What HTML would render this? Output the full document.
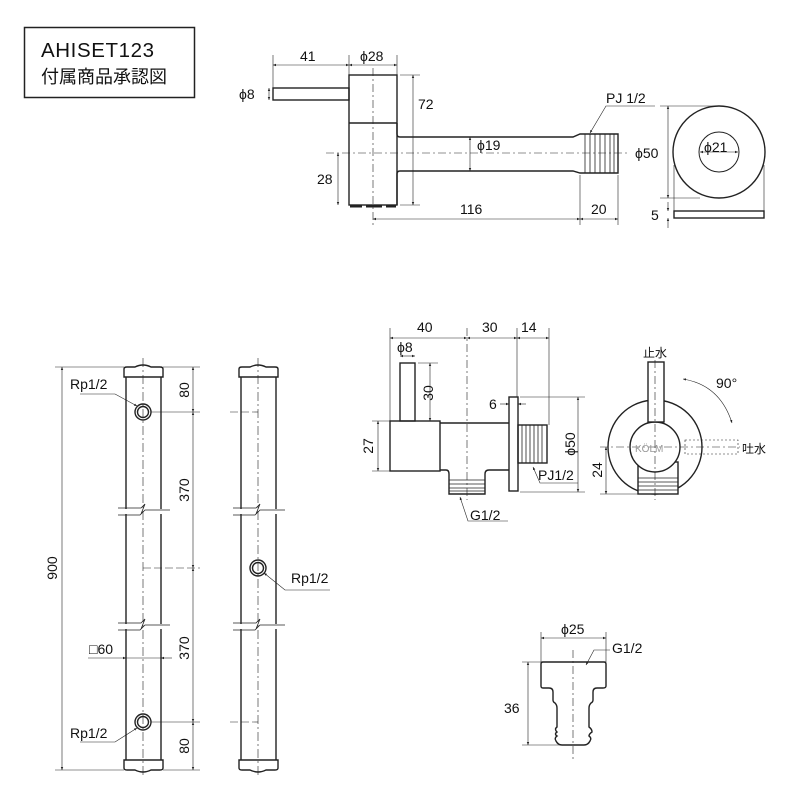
<!DOCTYPE html>
<html><head><meta charset="utf-8"><style>
html,body{margin:0;padding:0;background:#fff;}
svg{display:block;}
text{font-family:"Liberation Sans","Noto Sans CJK JP",sans-serif;fill:#111;}
</style></head><body>
<svg width="800" height="800" viewBox="0 0 800 800" xmlns="http://www.w3.org/2000/svg">
<defs>
<marker id="a" viewBox="0 0 10 10" refX="10" refY="5" markerWidth="5" markerHeight="5" orient="auto-start-reverse"><path d="M0,1 L10,5 L0,9 z" fill="#222"/></marker>
</defs>
<!-- title -->
<rect x="24.5" y="27.5" width="170" height="70" fill="none" stroke="#222" stroke-width="1.5"/>
<text x="41" y="57" font-size="20.5" letter-spacing="0.6">AHISET123</text>
<text x="41" y="83" font-size="18">付属商品承認図</text>

<g fill="none" stroke="#222" stroke-width="1.4">
<!-- top drawing -->
<rect x="273" y="88" width="76" height="12"/>
<rect x="349" y="75" width="48" height="130"/>
<line x1="349" y1="123" x2="397" y2="123"/>
<path d="M397,123 V134 Q397,137 400,137 H573 L580,134 H618 V173 H580 L573,171 H400 Q397,171 397,174 V205"/>
<g stroke-width="0.8"><line x1="585" y1="134" x2="585" y2="173"/><line x1="590" y1="134" x2="590" y2="173"/><line x1="595" y1="134" x2="595" y2="173"/><line x1="600" y1="134" x2="600" y2="173"/><line x1="605" y1="134" x2="605" y2="173"/><line x1="610" y1="134" x2="610" y2="173"/><line x1="614" y1="134" x2="614" y2="173"/></g>
<line x1="350" y1="206" x2="362" y2="206" stroke-width="3"/><line x1="366" y1="206" x2="382" y2="206" stroke-width="3"/><line x1="386" y1="206" x2="396" y2="206" stroke-width="3"/>
<g stroke-width="0.6">
<line x1="373" y1="68" x2="373" y2="225" stroke-dasharray="8,3,2,3"/>
<line x1="326" y1="153" x2="630" y2="153" stroke-dasharray="8,3,2,3"/>
<line x1="273" y1="55" x2="273" y2="88"/><line x1="349" y1="55" x2="349" y2="75"/><line x1="397" y1="55" x2="397" y2="75"/>
<line x1="273" y1="65" x2="349" y2="65" marker-start="url(#a)" marker-end="url(#a)"/>
<line x1="349" y1="65" x2="397" y2="65" marker-start="url(#a)" marker-end="url(#a)"/>
<line x1="400" y1="75" x2="420" y2="75"/><line x1="400" y1="205" x2="420" y2="205"/>
<line x1="413" y1="75" x2="413" y2="205" marker-start="url(#a)" marker-end="url(#a)"/>
<line x1="338" y1="153" x2="338" y2="205" marker-start="url(#a)" marker-end="url(#a)"/>
<line x1="470" y1="137" x2="470" y2="171" marker-start="url(#a)" marker-end="url(#a)"/>
<line x1="373" y1="219" x2="580" y2="219" marker-start="url(#a)" marker-end="url(#a)"/>
<line x1="580" y1="219" x2="618" y2="219" marker-start="url(#a)" marker-end="url(#a)"/>
<line x1="580" y1="175" x2="580" y2="225"/><line x1="618" y1="175" x2="618" y2="225"/>
<line x1="269" y1="88" x2="269" y2="100" marker-start="url(#a)" marker-end="url(#a)"/>
<polyline points="590,133 606,106 655,106" marker-start="url(#a)"/>
</g>
<!-- washer -->
<circle cx="719" cy="152" r="46"/><circle cx="719" cy="152" r="20" stroke-width="1"/>
<rect x="674" y="211" width="90" height="7"/>
<g stroke-width="0.6">
<line x1="700" y1="152" x2="738" y2="152" marker-start="url(#a)" marker-end="url(#a)"/>
<line x1="660" y1="106" x2="719" y2="106"/><line x1="660" y1="198" x2="700" y2="198"/>
<line x1="668" y1="106" x2="668" y2="198" marker-start="url(#a)" marker-end="url(#a)"/>
<line x1="674" y1="165" x2="674" y2="211"/><line x1="764" y1="165" x2="764" y2="211"/>
<line x1="668" y1="202" x2="668" y2="211" marker-end="url(#a)"/><line x1="668" y1="228" x2="668" y2="218" marker-end="url(#a)"/>
</g>

<!-- valve side -->
<rect x="400" y="363" width="15" height="58"/>
<rect x="390" y="421" width="50" height="50"/>
<path d="M440,423 H509 M440,470 H446 Q449,470 449,474 V494 H485 V474 Q485,470 489,470 H509"/>
<g stroke-width="0.8"><line x1="449" y1="480" x2="485" y2="480"/><line x1="449" y1="484" x2="485" y2="484"/><line x1="449" y1="488" x2="485" y2="488"/><line x1="449" y1="491" x2="485" y2="491"/></g>
<rect x="509" y="397" width="9" height="94"/>
<rect x="518" y="425" width="29" height="38"/>
<g stroke-width="0.8"><line x1="522" y1="425" x2="522" y2="463"/><line x1="526" y1="425" x2="526" y2="463"/><line x1="530" y1="425" x2="530" y2="463"/><line x1="534" y1="425" x2="534" y2="463"/><line x1="538" y1="425" x2="538" y2="463"/><line x1="542" y1="425" x2="542" y2="463"/></g>
<g stroke-width="0.6">
<line x1="467" y1="328" x2="467" y2="500" stroke-dasharray="8,3,2,3"/>
<line x1="390" y1="328" x2="390" y2="421"/><line x1="517" y1="328" x2="517" y2="397"/><line x1="549" y1="328" x2="549" y2="425"/>
<line x1="390" y1="338" x2="467" y2="338" marker-start="url(#a)" marker-end="url(#a)"/>
<line x1="467" y1="338" x2="517" y2="338" marker-start="url(#a)" marker-end="url(#a)"/>
<line x1="517" y1="338" x2="549" y2="338" marker-start="url(#a)" marker-end="url(#a)"/>
<line x1="400" y1="356" x2="415" y2="356" marker-start="url(#a)" marker-end="url(#a)"/>
<line x1="418" y1="363" x2="438" y2="363"/>
<line x1="430" y1="363" x2="430" y2="421" marker-start="url(#a)" marker-end="url(#a)"/>
<line x1="372" y1="421" x2="390" y2="421"/><line x1="372" y1="471" x2="390" y2="471"/>
<line x1="378" y1="421" x2="378" y2="471" marker-start="url(#a)" marker-end="url(#a)"/>
<line x1="500" y1="404" x2="509" y2="404" marker-end="url(#a)"/><line x1="526" y1="404" x2="518" y2="404" marker-end="url(#a)"/>
<line x1="520" y1="397" x2="585" y2="397"/><line x1="520" y1="492" x2="585" y2="492"/>
<line x1="578" y1="397" x2="578" y2="492" marker-start="url(#a)" marker-end="url(#a)"/>
<polyline points="533,467 540,483 578,483" marker-start="url(#a)"/>
<polyline points="460,497 468,521 508,521" marker-start="url(#a)"/>
</g>
<!-- valve front -->
<circle cx="655" cy="447" r="47"/>
<rect x="638" y="462" width="40" height="32" fill="#fff"/>
<g stroke-width="0.8"><line x1="638" y1="478" x2="678" y2="478"/><line x1="638" y1="482" x2="678" y2="482"/><line x1="638" y1="486" x2="678" y2="486"/><line x1="638" y1="490" x2="678" y2="490"/></g>
<circle cx="655" cy="447" r="25" fill="#fff"/>
<rect x="648" y="362" width="16" height="60" fill="#fff"/>
<g stroke-width="0.6">
<line x1="655" y1="360" x2="655" y2="500" stroke-dasharray="8,3,2,3"/>
<line x1="600" y1="447" x2="740" y2="447" stroke-dasharray="8,3,2,3"/>
<rect x="685" y="440" width="53" height="14" stroke-dasharray="2,2"/>
<path d="M683,379 Q720,385 732,423" marker-start="url(#a)" marker-end="url(#a)"/>
<line x1="600" y1="494" x2="640" y2="494"/>
<line x1="606" y1="447" x2="606" y2="494" marker-start="url(#a)" marker-end="url(#a)"/>
</g>

<!-- post 1 -->
<path d="M124,377 V369 Q124,367 127,367 H135 Q143,363 151,367 H160 Q163,367 163,369 V377 Z"/>
<path d="M124,760 V768 Q124,770 127,770 H135 Q143,774 151,770 H160 Q163,770 163,768 V760 Z"/>
<line x1="126" y1="377" x2="126" y2="760"/><line x1="161" y1="377" x2="161" y2="760"/>
<circle cx="143" cy="412" r="8"/><circle cx="143" cy="412" r="5.5"/>
<circle cx="143" cy="722" r="8"/><circle cx="143" cy="722" r="5.5"/>
<!-- post 2 -->
<path d="M239,377 V369 Q239,367 242,367 H250 Q258,363 266,367 H275 Q278,367 278,369 V377 Z"/>
<path d="M239,760 V768 Q239,770 242,770 H250 Q258,774 266,770 H275 Q278,770 278,768 V760 Z"/>
<line x1="241" y1="377" x2="241" y2="760"/><line x1="276" y1="377" x2="276" y2="760"/>
<circle cx="258" cy="568" r="8"/><circle cx="258" cy="568" r="5.5"/>
<g fill="#fff" stroke="none">
<rect x="115" y="509" width="60" height="5"/><rect x="115" y="624" width="60" height="5"/>
<rect x="230" y="509" width="60" height="5"/><rect x="230" y="624" width="60" height="5"/>
</g>
<g stroke-width="0.8">
<path d="M118,508 H141 L145,504 L141,514 L145,510 H170 M118,515 H140 L144,511"/>
<path d="M118,623 H141 L145,619 L141,629 L145,625 H170 M118,630 H140 L144,626"/>
<path d="M233,508 H256 L260,504 L256,514 L260,510 H285 M233,515 H255 L259,511"/>
<path d="M233,623 H256 L260,619 L256,629 L260,625 H285 M233,630 H255 L259,626"/>
</g>
<g stroke-width="0.6">
<line x1="143" y1="358" x2="143" y2="778" stroke-dasharray="9,3,2,3"/>
<line x1="258" y1="358" x2="258" y2="778" stroke-dasharray="9,3,2,3"/>
<line x1="55" y1="367" x2="124" y2="367"/><line x1="55" y1="770" x2="124" y2="770"/>
<line x1="62" y1="367" x2="62" y2="770" marker-start="url(#a)" marker-end="url(#a)"/>
<line x1="163" y1="367" x2="200" y2="367"/><line x1="163" y1="770" x2="200" y2="770"/>
<line x1="151" y1="412" x2="200" y2="412"/><line x1="151" y1="722" x2="200" y2="722"/>
<line x1="143" y1="568" x2="200" y2="568" stroke-dasharray="8,3"/>
<line x1="193" y1="367" x2="193" y2="412" marker-start="url(#a)" marker-end="url(#a)"/>
<line x1="193" y1="412" x2="193" y2="568" marker-start="url(#a)" marker-end="url(#a)"/>
<line x1="193" y1="568" x2="193" y2="722" marker-start="url(#a)" marker-end="url(#a)"/>
<line x1="193" y1="722" x2="193" y2="770" marker-start="url(#a)" marker-end="url(#a)"/>
<line x1="230" y1="412" x2="258" y2="412" stroke-dasharray="8,3"/>
<line x1="230" y1="722" x2="258" y2="722" stroke-dasharray="8,3"/>
<line x1="88" y1="658" x2="126" y2="658" marker-end="url(#a)"/><line x1="172" y1="658" x2="161" y2="658" marker-end="url(#a)"/>
<line x1="126" y1="658" x2="161" y2="658"/>
<polyline points="80,394 115,394 137,406" marker-end="url(#a)"/>
<polyline points="80,742 115,742 137,728" marker-end="url(#a)"/>
<polyline points="330,590 285,590 264,573" marker-end="url(#a)"/>
</g>

<!-- fitting -->
<path d="M543,662 H604 Q606,662 606,664 V686 Q606,688 603,688 H597 Q593,688 593,692 V700 Q593,702 591,703 Q589,705 589,708 V727 Q592,729 592,732 Q589,734 589,736 Q592,738 590,741 Q588,745 584,745 H562 Q558,745 556,741 Q554,738 557,736 Q554,734 557,732 Q554,729 557,727 V708 Q557,705 555,703 Q553,702 553,700 V692 Q553,688 549,688 H543 Q541,688 541,686 V664 Q541,662 543,662 Z"/>
<g stroke-width="0.6">
<line x1="573" y1="650" x2="573" y2="760" stroke-dasharray="8,3,2,3"/>
<line x1="541" y1="632" x2="541" y2="662"/><line x1="606" y1="632" x2="606" y2="662"/>
<line x1="541" y1="638" x2="606" y2="638" marker-start="url(#a)" marker-end="url(#a)"/>
<line x1="522" y1="662" x2="541" y2="662"/><line x1="522" y1="745" x2="560" y2="745"/>
<line x1="528" y1="662" x2="528" y2="745" marker-start="url(#a)" marker-end="url(#a)"/>
<polyline points="586,665 594,650 610,650" marker-start="url(#a)"/>
</g>
</g>

<g font-size="14">
<text x="300" y="61">41</text>
<text x="360" y="61">ϕ28</text>
<text x="239" y="99">ϕ8</text>
<text x="418" y="109">72</text>
<text x="317" y="184">28</text>
<text x="477" y="150">ϕ19</text>
<text x="460" y="214">116</text>
<text x="591" y="214">20</text>
<text x="606" y="103">PJ 1/2</text>
<text x="635" y="158">ϕ50</text>
<text x="704" y="152">ϕ21</text>
<text x="651" y="220">5</text>

<text x="417" y="332">40</text>
<text x="482" y="332">30</text>
<text x="521" y="332">14</text>
<text x="397" y="352">ϕ8</text>
<text x="433" y="393" transform="rotate(-90 433 393)" text-anchor="middle">30</text>
<text x="373" y="446" transform="rotate(-90 373 446)" text-anchor="middle">27</text>
<text x="489" y="409">6</text>
<text x="575" y="444" transform="rotate(-90 575 444)" text-anchor="middle">ϕ50</text>
<text x="538" y="480">PJ1/2</text>
<text x="470" y="520">G1/2</text>
<text x="643" y="357" font-size="12">止水</text>
<text x="716" y="388">90°</text>
<text x="742" y="453" font-size="12">吐水</text>
<text x="635" y="452" font-size="10" style="fill:#999">KÖLM</text>
<text x="602" y="470" transform="rotate(-90 602 470)" text-anchor="middle">24</text>

<text x="70" y="389">Rp1/2</text>
<text x="70" y="738">Rp1/2</text>
<text x="291" y="583">Rp1/2</text>
<text x="89" y="654">□60</text>
<text x="57" y="568" transform="rotate(-90 57 568)" text-anchor="middle">900</text>
<text x="189" y="390" transform="rotate(-90 189 390)" text-anchor="middle">80</text>
<text x="189" y="490" transform="rotate(-90 189 490)" text-anchor="middle">370</text>
<text x="189" y="648" transform="rotate(-90 189 648)" text-anchor="middle">370</text>
<text x="189" y="746" transform="rotate(-90 189 746)" text-anchor="middle">80</text>

<text x="561" y="634">ϕ25</text>
<text x="612" y="653">G1/2</text>
<text x="504" y="713">36</text>
</g>
</svg>
</body></html>
